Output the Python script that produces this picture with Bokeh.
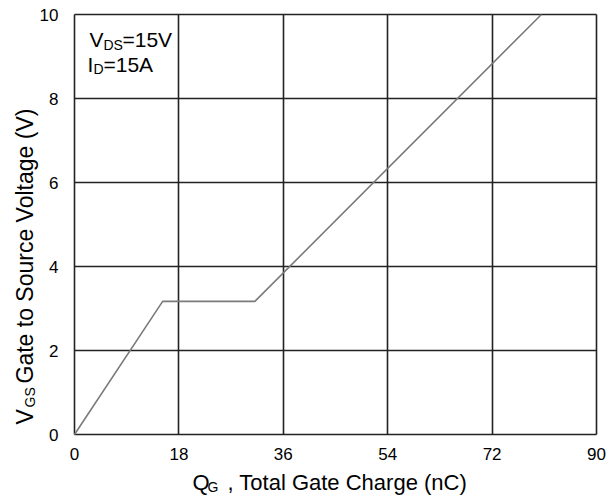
import math
from bokeh.plotting import figure
from bokeh.models import Range1d, FixedTicker, Label, Grid
from bokeh.embed import file_html
from bokeh.resources import INLINE

# Data
q_gate = [0.0, 15.2, 31.1, 80.5]      # Total gate charge (nC)
v_gs = [0.0, 3.17, 3.17, 10.0]         # Gate to source voltage (V)
x_ticks = [0, 18, 36, 54, 72, 90]
y_ticks = [0, 2, 4, 6, 8, 10]
x_lim = (0, 90)
y_lim = (0, 10)

FONT = "Liberation Sans"
W, H = 615, 497
LEFT, RIGHT, TOP, BOTTOM = 74, 19, 14, 63          # plot-box margins in pixels
sx = (W - LEFT - RIGHT) / (x_lim[1] - x_lim[0])      # pixels per nC
sy = (H - TOP - BOTTOM) / (y_lim[1] - y_lim[0])      # pixels per V
SHIFT = 7.5                                          # baseline correction in pixels

p = figure(width=W, height=H, output_backend="svg", toolbar_location=None,
           x_range=Range1d(x_lim[0] - LEFT / sx, x_lim[1] + RIGHT / sx),
           y_range=Range1d(y_lim[0] - BOTTOM / sy, y_lim[1] + TOP / sy),
           min_border=0)
p.title.visible = False
p.background_fill_color = "white"
p.border_fill_color = "white"
p.outline_line_color = None

for ax, ticks, standoff, loc in ((p.xaxis[0], x_ticks, 13, y_lim[0]),
                                 (p.yaxis[0], y_ticks, 16, x_lim[0])):
    ax.ticker = FixedTicker(ticks=ticks)
    ax.fixed_location = loc
    ax.axis_line_color = None
    ax.major_tick_line_color = None
    ax.minor_tick_line_color = None
    ax.major_tick_out = 0
    ax.major_tick_in = 0
    ax.major_label_standoff = standoff
    ax.major_label_text_font = FONT
    ax.major_label_text_font_size = "17px"
    ax.major_label_text_color = "black"

grid_kw = dict(grid_line_color="#222222", grid_line_width=1.6)
if "cross_bounds" in Grid.properties():
    p.xgrid[0].update(cross_bounds=y_lim, **grid_kw)
    p.ygrid[0].update(cross_bounds=x_lim, **grid_kw)
else:
    p.xgrid.visible = False
    p.ygrid.visible = False
    p.segment(x0=x_ticks, y0=[y_lim[0]] * len(x_ticks), x1=x_ticks,
              y1=[y_lim[1]] * len(x_ticks), line_color="#222222", line_width=1.6)
    p.segment(x0=[x_lim[0]] * len(y_ticks), y0=y_ticks, x1=[x_lim[1]] * len(y_ticks),
              y1=y_ticks, line_color="#222222", line_width=1.6)

p.line(q_gate, v_gs, line_color="#7a7a7a", line_width=1.6)


def lab(px, py, text, size, angle=0.0):
    # px, py: baseline start in pixels from the top-left of the canvas
    if angle:
        px -= SHIFT
    else:
        py -= SHIFT
    p.add_layout(Label(x=x_lim[0] + (px - LEFT) / sx, y=y_lim[0] + (H - BOTTOM - py) / sy,
                       text=text, text_font=FONT, text_font_size=size,
                       text_color="black", text_align="left",
                       text_baseline="alphabetic", angle=angle))


# In-plot annotation
lab(89, 46.7, "V", "21px")
lab(103, 51.7, "DS", "14px")
lab(122, 46.7, "=15V", "21px")
lab(87, 71.7, "I", "21px")
lab(93, 76, "D", "14px")
lab(103, 71.7, "=15A", "21px")

# X axis title
lab(192, 489, "Q", "22px")
lab(207, 494, "G", "14px")
lab(227, 489, ", Total Gate Charge (nC)", "22px")

# Y axis title (rotated)
lab(32, 424, "V", "23px", math.pi / 2)
lab(37, 407, "GS", "14px", math.pi / 2)
lab(32, 383, "Gate to Source Voltage (V)", "23px", math.pi / 2)

open("out.html", "w").write(file_html(p, INLINE))
